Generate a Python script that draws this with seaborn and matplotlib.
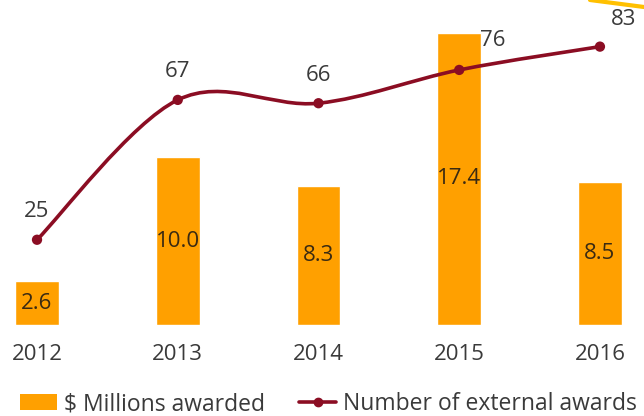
import numpy as np
import matplotlib
matplotlib.use('Agg')
import matplotlib.pyplot as plt
import seaborn as sns
from matplotlib.path import Path
from matplotlib.patches import PathPatch, Patch
from matplotlib.lines import Line2D

# data
years = ['2012', '2013', '2014', '2015', '2016']
millions = [2.6, 10.0, 8.3, 17.4, 8.5]
awards = [25, 67, 66, 76, 83]

bar_color = '#FFA000'
line_color = '#8B0D23'
text_color = '#3A3A3A'
fs = 16

sns.set_theme(style='white')
plt.rcParams['font.family'] = ['Open Sans', 'DejaVu Sans']

fig = plt.figure(figsize=(6.44, 4.16), dpi=100)
ax = fig.add_axes([0, 91 / 416, 1, 325 / 416])

sns.barplot(x=years, y=millions, color=bar_color, saturation=1, width=0.31, ax=ax)
ax.set_xlim(-0.263, 4.313)
ax.set_ylim(0, 19.35)
for i, v in enumerate(millions):
    ax.text(i, v / 2, f'{v:.1f}', ha='center', va='center', fontsize=fs, color='#3A2A12')

# number of awards, smoothed line on a second axis
ax2 = ax.twinx()
ax2.set_ylim(-0.6, 97)
xs = np.arange(len(awards), dtype=float)
pts = np.column_stack([xs, awards])
ext = np.vstack([pts[0], pts, pts[-1]])
verts = [pts[0]]
codes = [Path.MOVETO]
for i in range(len(pts) - 1):
    p0, p1, p2, p3 = ext[i], ext[i + 1], ext[i + 2], ext[i + 3]
    verts += [p1 + (p2 - p0) / 6, p2 - (p3 - p1) / 6, p2]
    codes += [Path.CURVE4] * 3
ax2.add_patch(PathPatch(Path(verts, codes), fill=False, edgecolor=line_color, lw=2.6))
sns.scatterplot(x=xs, y=awards, color=line_color, s=55, edgecolor='none', ax=ax2, zorder=5)

offsets = [(0, 28), (0, 28), (0, 28), (34, 29), (24, 27)]
for i, v in enumerate(awards):
    ax2.annotate(str(v), (i, v), xytext=offsets[i], textcoords='offset pixels',
                 ha='center', va='center', fontsize=fs, color=text_color)

for a in (ax, ax2):
    for s in a.spines.values():
        s.set_visible(False)
    a.set_yticks([])
    a.set_ylabel('')
ax.set_xlabel('')
ax.tick_params(axis='x', length=0, pad=14, labelsize=fs, labelcolor=text_color)

# decorative yellow stroke top right
fig.add_artist(Line2D([590 / 644, 1.0], [1.0, 1 - 7 / 416], color='#FFC000', lw=3))

handles = [Patch(facecolor=bar_color, edgecolor='none', label='$ Millions awarded'),
           Line2D([0], [0], color=line_color, lw=2.6, marker='o', markersize=6,
                  label='Number of external awards')]
fig.legend(handles=handles, loc='center', bbox_to_anchor=(0.51, 12 / 416), ncol=2,
           frameon=False, fontsize=16.5, labelcolor=text_color, handlelength=1.6,
           handletextpad=0.3, columnspacing=1.5, borderpad=0)

fig.savefig('out.png', dpi=100)
